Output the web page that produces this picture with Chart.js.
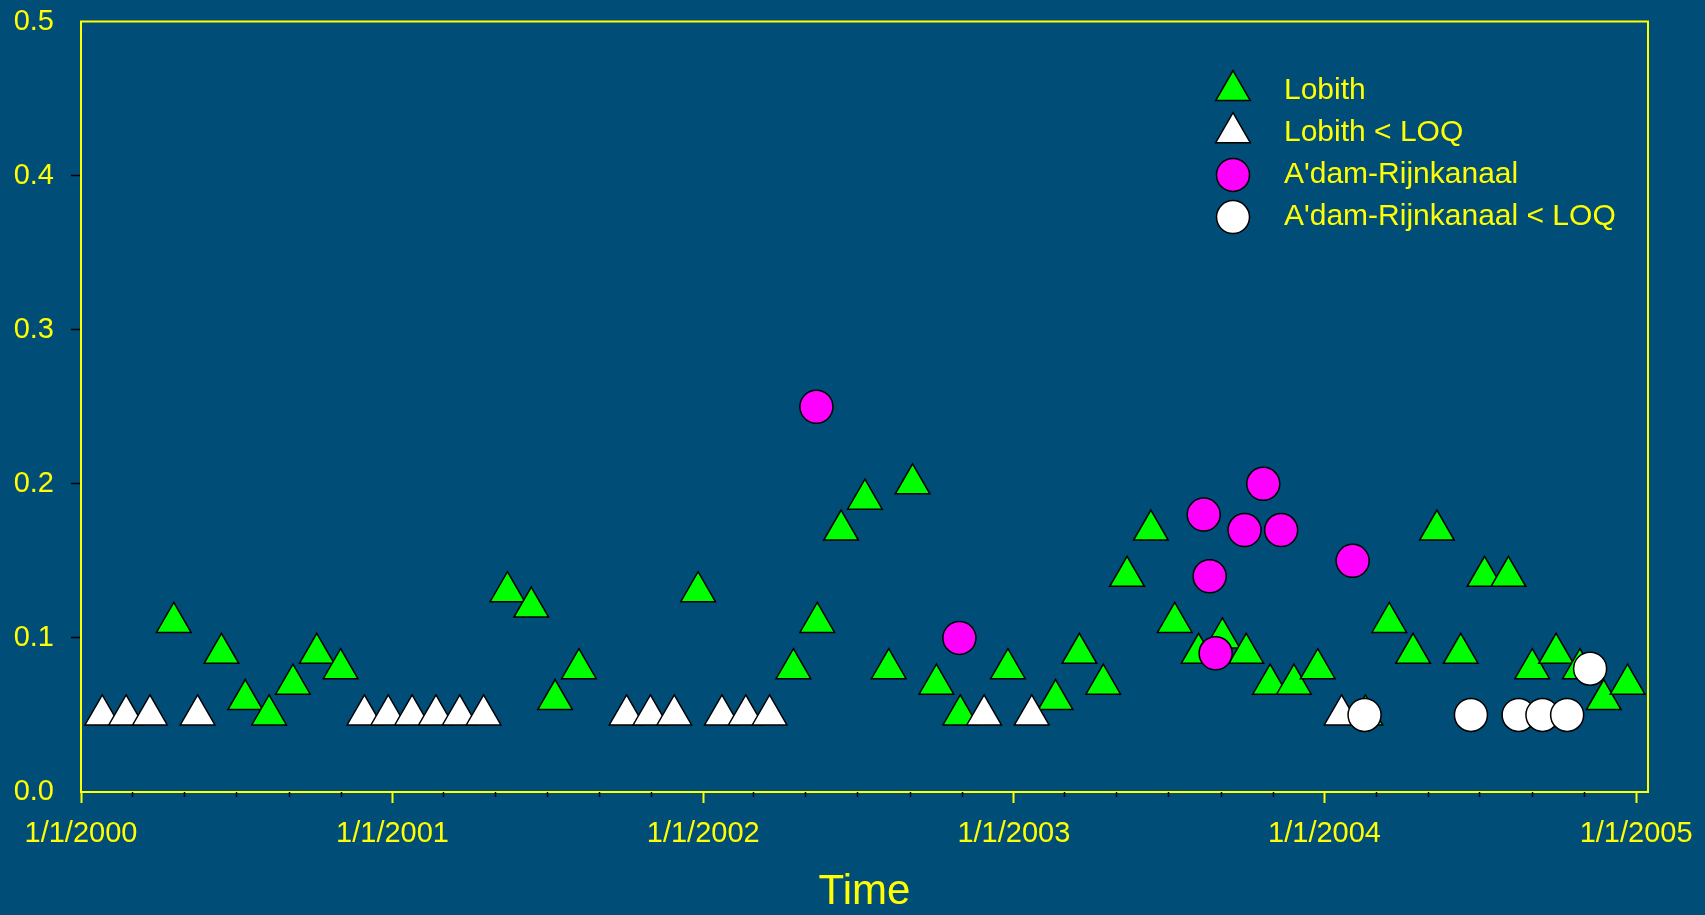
<!DOCTYPE html>
<html>
<head>
<meta charset="utf-8">
<title>Lobith / A'dam-Rijnkanaal</title>
<script src="https://cdn.jsdelivr.net/npm/chart.js@4/dist/chart.umd.min.js"></script>
<style>
  html, body { margin: 0; padding: 0; background: #004d78; }
  #wrap { width: 1705px; height: 915px; position: relative; }
</style>
</head>
<body>
<div id="wrap"><canvas id="chart"></canvas></div>
<script>
// ── data ─────────────────────────────────────────────────
const lobithDates = [
  "2000-04-19", "2000-06-14", "2000-07-12", "2000-08-09", "2000-09-06", "2000-10-04", "2000-11-01",
  "2001-05-16", "2001-06-13", "2001-07-11", "2001-08-08", "2001-12-26",
  "2002-04-17", "2002-05-15", "2002-06-12", "2002-07-10", "2002-08-07", "2002-09-04", "2002-10-02",
  "2002-10-30", "2002-12-25",
  "2003-02-19", "2003-03-19", "2003-04-16", "2003-05-14", "2003-06-11", "2003-07-09", "2003-08-06",
  "2003-09-03", "2003-10-01", "2003-10-29", "2003-11-26", "2003-12-24",
  "2004-02-18", "2004-03-17", "2004-04-14", "2004-05-12", "2004-06-09", "2004-07-07", "2004-08-04",
  "2004-09-01", "2004-09-29", "2004-10-27", "2004-11-24", "2004-12-22"
];
const lobithValues = [
  0.11, 0.09, 0.06, 0.05, 0.07, 0.09, 0.08,
  0.13, 0.12, 0.06, 0.08, 0.13,
  0.08, 0.11, 0.17, 0.19, 0.08, 0.20, 0.07,
  0.05, 0.08,
  0.06, 0.09, 0.07, 0.14, 0.17, 0.11, 0.09,
  0.10, 0.09, 0.07, 0.07, 0.08,
  0.05, 0.11, 0.09, 0.17, 0.09, 0.14, 0.14,
  0.08, 0.09, 0.08, 0.06, 0.07
];

const lobithLoqDates = [
  "2000-01-26", "2000-02-23", "2000-03-22", "2000-05-17", "2000-11-29", "2000-12-27",
  "2001-01-24", "2001-02-21", "2001-03-21", "2001-04-18", "2001-10-03", "2001-10-31", "2001-11-28",
  "2002-01-23", "2002-02-20", "2002-03-20", "2002-11-27",
  "2003-01-22", "2004-01-21"
];
const lobithLoqValues = [
  0.05, 0.05, 0.05, 0.05, 0.05, 0.05,
  0.05, 0.05, 0.05, 0.05, 0.05, 0.05, 0.05,
  0.05, 0.05, 0.05, 0.05,
  0.05, 0.05
];

const adamDates = [
  "2002-05-14", "2002-10-29", "2003-08-12", "2003-08-19", "2003-08-26",
  "2003-09-29", "2003-10-21", "2003-11-11", "2004-02-03"
];
const adamValues = [0.25, 0.10, 0.18, 0.14, 0.09, 0.17, 0.20, 0.17, 0.15];

const adamLoqDates = ["2004-02-17", "2004-06-21", "2004-08-16", "2004-09-13", "2004-10-12", "2004-11-08"];
const adamLoqValues = [0.05, 0.05, 0.05, 0.05, 0.05, 0.08];

const seriesNames = ["Lobith", "Lobith < LOQ", "A'dam-Rijnkanaal", "A'dam-Rijnkanaal < LOQ"];

const xTickDates = ["2000-01-01", "2001-01-01", "2002-01-01", "2003-01-01", "2004-01-01", "2005-01-01"];
const xTickLabels = ["1/1/2000", "1/1/2001", "1/1/2002", "1/1/2003", "1/1/2004", "1/1/2005"];
const yTickLabels = ["0.0", "0.1", "0.2", "0.3", "0.4", "0.5"];

// ── helpers ─────────────────────────────────────────────
const YELLOW = "#ffff00";
const FONT = '"Liberation Sans", Arial, sans-serif';

function dayNum(s) {
  const [y, m, d] = s.split("-").map(Number);
  return (Date.UTC(y, m - 1, d) - Date.UTC(2000, 0, 1)) / 86400000;
}

function toPoints(dates, values) {
  return dates.map((d, i) => ({ x: dayNum(d), y: values[i] }));
}

// minor ticks every two months (Mar, May, Jul, Sep, Nov)
const minorTicks = [];
for (let y = 2000; y <= 2004; y++) {
  [2, 4, 6, 8, 10].forEach(m => {
    minorTicks.push((Date.UTC(y, m, 1) - Date.UTC(2000, 0, 1)) / 86400000);
  });
}

// ── plugins ─────────────────────────────────────────────
const framePlugin = {
  id: "frame",
  beforeDatasetsDraw(chart) {
    const { ctx, chartArea: a, scales } = chart;
    ctx.save();
    ctx.strokeStyle = YELLOW;
    ctx.lineWidth = 2;
    ctx.strokeRect(a.left, a.top, a.right - a.left, a.bottom - a.top);
    // minor x ticks, black, short
    ctx.strokeStyle = "#000";
    ctx.lineWidth = 1.5;
    minorTicks.forEach(v => {
      const px = Math.round(scales.x.getPixelForValue(v)) + 0.5;
      ctx.beginPath();
      ctx.moveTo(px, a.bottom);
      ctx.lineTo(px, a.bottom + 5);
      ctx.stroke();
    });
    ctx.restore();
  }
};

const legendPlugin = {
  id: "symbolLegend",
  afterDraw(chart) {
    const { ctx } = chart;
    ctx.save();
    ctx.font = "30px " + FONT;
    ctx.textBaseline = "middle";
    ctx.textAlign = "left";
    chart.data.datasets.forEach((ds, i) => {
      const y = 90.5 + i * 42.2;
      ctx.fillStyle = ds.backgroundColor;
      ctx.strokeStyle = ds.borderColor;
      ctx.lineWidth = ds.borderWidth;
      Chart.helpers.drawPoint(ctx, {
        pointStyle: ds.pointStyle,
        radius: ds.pointRadius,
        rotation: 0,
        borderWidth: ds.borderWidth
      }, 1233, y);
      ctx.fillStyle = YELLOW;
      ctx.fillText(ds.label, 1284, y);
    });
    ctx.restore();
  }
};

// ── chart ───────────────────────────────────────────────
function marker(label, pts, style, fill, radius, order) {
  return {
    label: label,
    data: pts,
    pointStyle: style,
    pointRadius: radius,
    pointHoverRadius: radius,
    backgroundColor: fill,
    borderColor: "#000",
    borderWidth: 1.5,
    order: order,
    clip: false
  };
}

new Chart(document.getElementById("chart"), {
  type: "scatter",
  data: {
    datasets: [
      marker(seriesNames[0], toPoints(lobithDates, lobithValues), "triangle", "#00ff00", 20, 4),
      marker(seriesNames[1], toPoints(lobithLoqDates, lobithLoqValues), "triangle", "#ffffff", 20, 3),
      marker(seriesNames[2], toPoints(adamDates, adamValues), "circle", "#ff00ff", 16.5, 2),
      marker(seriesNames[3], toPoints(adamLoqDates, adamLoqValues), "circle", "#ffffff", 16.5, 1)
    ]
  },
  options: {
    responsive: true,
    maintainAspectRatio: false,
    animation: false,
    events: [],
    layout: { padding: { top: 19, right: 57, bottom: 0, left: 0 } },
    plugins: {
      legend: { display: false },
      tooltip: { enabled: false }
    },
    scales: {
      x: {
        type: "linear",
        min: 0,
        max: dayNum("2005-01-15"),
        afterBuildTicks(scale) {
          scale.ticks = xTickDates.map(d => ({ value: dayNum(d) }));
        },
        afterFit(scale) {
          scale.height = 123;
          scale.paddingLeft = 0;
          scale.paddingRight = 0;
        },
        ticks: {
          autoSkip: false,
          maxRotation: 0,
          padding: 14,
          color: YELLOW,
          font: { family: FONT, size: 29 },
          callback: (v, i) => xTickLabels[i]
        },
        grid: {
          drawOnChartArea: false,
          drawTicks: true,
          tickLength: 11,
          tickColor: YELLOW,
          tickWidth: 2
        },
        border: { color: YELLOW, width: 2 },
        title: {
          display: true,
          text: "Time",
          color: YELLOW,
          font: { family: FONT, size: 42, lineHeight: 1 },
          padding: { top: 0, bottom: 2 }
        }
      },
      y: {
        min: 0,
        max: 0.5,
        afterBuildTicks(scale) {
          scale.ticks = yTickLabels.map(t => ({ value: parseFloat(t) }));
        },
        afterFit(scale) {
          scale.width = 81;
          scale.paddingTop = 0;
          scale.paddingBottom = 0;
        },
        ticks: {
          padding: 17,
          color: YELLOW,
          font: { family: FONT, size: 29 },
          callback: (v, i) => yTickLabels[i]
        },
        grid: {
          drawOnChartArea: false,
          drawTicks: true,
          tickLength: 10,
          tickWidth: 1.5,
          tickColor: c => (c.index === 0 || c.index === yTickLabels.length - 1) ? "transparent" : "#000"
        },
        border: { color: YELLOW, width: 2 }
      }
    }
  },
  plugins: [framePlugin, legendPlugin]
});
</script>
</body>
</html>
